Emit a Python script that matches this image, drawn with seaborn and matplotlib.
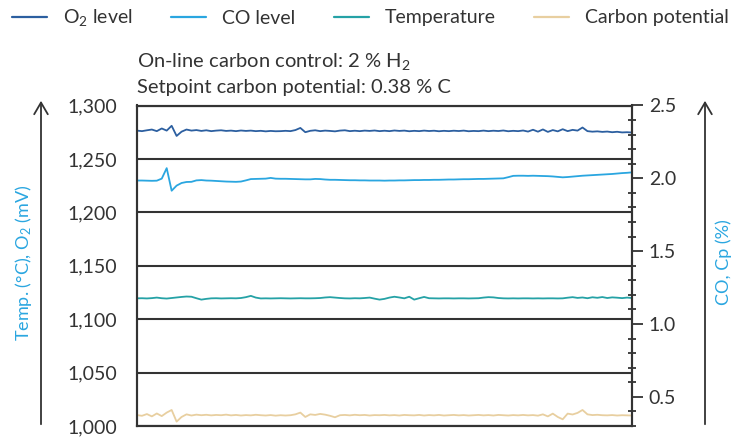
import numpy as np
import pandas as pd
import matplotlib
matplotlib.use("Agg")
import matplotlib.pyplot as plt
import matplotlib.ticker as mticker
import seaborn as sns

# ---- data (101 samples, arbitrary time units) ----
o2_level = [
    1276.5, 1276.0, 1276.8, 1277.5, 1276.0, 1278.5, 1276.5, 1281.0, 1271.5, 1275.5,
    1277.5, 1276.5, 1277.0, 1276.2, 1276.8, 1276.0, 1276.5, 1276.8, 1276.2, 1276.5,
    1276.0, 1276.6, 1276.2, 1276.5, 1276.0, 1276.3, 1275.8, 1276.2, 1275.9, 1276.0,
    1276.3, 1276.0, 1277.0, 1279.0, 1275.0, 1276.3, 1276.8, 1276.0, 1276.5, 1276.2,
    1275.8, 1276.5, 1276.8, 1276.0, 1276.4, 1276.0, 1276.5, 1276.2, 1276.6, 1276.0,
    1276.4, 1276.0, 1276.6, 1276.2, 1276.5, 1275.9, 1276.3, 1276.0, 1276.5, 1276.1,
    1276.4, 1275.9, 1276.3, 1276.0, 1276.4, 1276.1, 1276.5, 1275.9, 1276.2, 1276.0,
    1276.5, 1276.0, 1276.4, 1276.1, 1276.6, 1275.9, 1276.3, 1276.0, 1276.6, 1275.6,
    1277.3, 1275.5, 1277.6, 1275.3, 1277.0, 1275.8, 1277.8, 1276.0, 1277.2, 1276.5,
    1279.4, 1276.0, 1275.5, 1275.8, 1275.3, 1275.6, 1275.0, 1275.4, 1274.8, 1275.0,
    1274.7,
]
co_level = [
    1.985, 1.985, 1.984, 1.983, 1.984, 1.998, 2.070, 1.915, 1.950, 1.968,
    1.975, 1.976, 1.986, 1.988, 1.985, 1.984, 1.982, 1.980, 1.978, 1.977,
    1.976, 1.978, 1.986, 1.995, 1.996, 1.997, 1.998, 2.003, 1.998, 1.997,
    1.997, 1.996, 1.995, 1.994, 1.993, 1.993, 1.996, 1.995, 1.992, 1.990,
    1.990, 1.989, 1.988, 1.987, 1.987, 1.986, 1.986, 1.985, 1.985, 1.985,
    1.984, 1.985, 1.985, 1.986, 1.986, 1.987, 1.988, 1.988, 1.989, 1.989,
    1.990, 1.990, 1.991, 1.992, 1.992, 1.993, 1.994, 1.994, 1.995, 1.996,
    1.996, 1.997, 1.998, 1.999, 2.000, 2.008, 2.017, 2.018, 2.018, 2.017,
    2.018, 2.017, 2.016, 2.015, 2.013, 2.010, 2.007, 2.009, 2.012, 2.015,
    2.018, 2.020, 2.022, 2.024, 2.026, 2.028, 2.030, 2.033, 2.036, 2.038,
    2.041,
]
temperature = [
    1119.5, 1119.6, 1119.4, 1119.7, 1120.2, 1119.6, 1119.3, 1119.8, 1120.3, 1120.8,
    1121.2, 1121.0, 1119.6, 1118.3, 1119.0, 1119.5, 1119.6, 1119.4, 1119.5, 1119.6,
    1119.5, 1119.8, 1120.6, 1121.8, 1120.2, 1119.4, 1119.5, 1119.4, 1119.5, 1119.6,
    1119.5, 1119.4, 1119.5, 1119.6, 1119.5, 1119.5, 1119.6, 1119.8, 1120.3, 1120.6,
    1120.2, 1119.8, 1119.5, 1119.4, 1119.6, 1119.5, 1119.8, 1120.2, 1119.2, 1118.3,
    1119.0, 1120.2, 1121.0, 1120.3, 1119.5, 1121.0, 1118.3, 1119.6, 1120.8, 1119.6,
    1119.5, 1119.4, 1119.5, 1119.5, 1119.4, 1119.5, 1119.5, 1119.4, 1119.5, 1119.6,
    1120.2, 1120.6, 1120.4, 1119.8, 1119.5, 1119.4, 1119.5, 1119.4, 1119.5, 1119.5,
    1119.4, 1119.5, 1119.4, 1119.5, 1119.5, 1119.4, 1119.5, 1120.1, 1120.6, 1119.9,
    1120.3, 1119.6, 1120.5, 1120.0, 1120.7, 1119.8, 1120.4, 1120.1, 1119.7, 1120.2,
    1119.8,
]
carbon_potential = [
    0.375, 0.370, 0.382, 0.366, 0.386, 0.368, 0.392, 0.410, 0.330, 0.362,
    0.380, 0.372, 0.378, 0.374, 0.377, 0.373, 0.376, 0.374, 0.378, 0.373,
    0.376, 0.372, 0.375, 0.373, 0.377, 0.374, 0.372, 0.375, 0.371, 0.374,
    0.372, 0.374, 0.380, 0.392, 0.362, 0.380, 0.376, 0.383, 0.378, 0.370,
    0.360, 0.374, 0.376, 0.373, 0.377, 0.374, 0.376, 0.372, 0.375, 0.374,
    0.376, 0.373, 0.375, 0.372, 0.376, 0.374, 0.373, 0.376, 0.372, 0.375,
    0.373, 0.376, 0.372, 0.374, 0.376, 0.373, 0.375, 0.372, 0.374, 0.376,
    0.373, 0.375, 0.372, 0.376, 0.374, 0.372, 0.375, 0.373, 0.376, 0.373,
    0.375, 0.371, 0.380, 0.366, 0.385, 0.362, 0.346, 0.385, 0.379, 0.390,
    0.410, 0.380, 0.375, 0.377, 0.374, 0.373, 0.375, 0.372, 0.374, 0.373,
    0.372,
]
left_ticks = [1000, 1050, 1100, 1150, 1200, 1250, 1300]
right_ticks = [0.5, 1.0, 1.5, 2.0, 2.5]

legend_labels = ["O$_2$ level", "CO level", "Temperature", "Carbon potential"]
note_lines = ["On-line carbon control: 2 % H$_2$",
              "Setpoint carbon potential: 0.38 % C"]

C_O2 = "#2c5fa0"
C_CO = "#2aa6e0"
C_TEMP = "#25a2a6"
C_CP = "#e8cfa0"
DARK = "#333333"

df = pd.DataFrame({
    "t": np.arange(len(o2_level)),
    "o2": o2_level,
    "co": co_level,
    "temp": temperature,
    "cp": carbon_potential,
})

sns.set_theme(style="white")
plt.rcParams["font.family"] = ["Lato", "DejaVu Sans"]
plt.rcParams["mathtext.fontset"] = "custom"
plt.rcParams["mathtext.rm"] = "Lato"
plt.rcParams["mathtext.it"] = "Lato"

W, H = 741, 438
fig = plt.figure(figsize=(W / 100, H / 100), dpi=100)
ax = fig.add_axes([137 / W, 1 - 426 / H, (632 - 137) / W, (426 - 105.5) / H])
ax2 = ax.twinx()

lw = 1.3
sns.lineplot(data=df, x="t", y="o2", ax=ax, color=C_O2, lw=lw)
sns.lineplot(data=df, x="t", y="temp", ax=ax, color=C_TEMP, lw=lw)
sns.lineplot(data=df, x="t", y="co", ax=ax2, color=C_CO, lw=lw)
sns.lineplot(data=df, x="t", y="cp", ax=ax2, color=C_CP, lw=lw)

ax.set_xlim(df["t"].min(), df["t"].max())
ax.set_ylim(1000, 1300)
ax2.set_ylim(0.3, 2.5)
for a in (ax, ax2):
    a.set_xlabel("")
    a.set_ylabel("")
    a.set_xticks([])
    for s in a.spines.values():
        s.set_color(DARK)
        s.set_linewidth(1.5)

ax.set_yticks(left_ticks)
ax.yaxis.set_major_formatter(mticker.StrMethodFormatter("{x:,.0f}"))
ax.tick_params(axis="y", length=0, pad=14, labelsize=14, labelcolor=DARK)
ax.grid(axis="y", color=DARK, lw=1.5)
ax.set_axisbelow(False)

ax2.set_yticks(right_ticks)
ax2.yaxis.set_minor_locator(mticker.MultipleLocator(0.1))
ax2.yaxis.set_major_formatter(mticker.StrMethodFormatter("{x:.1f}"))
ax2.tick_params(axis="y", which="major", direction="out", length=8, width=1.3,
                color=DARK, pad=4, labelsize=14, labelcolor=DARK)
ax2.tick_params(axis="y", which="minor", direction="inout", length=6, width=1.3,
                color=DARK)
ax2.grid(False)

# axis titles with arrows
fig.text(24 / W, 1 - 263 / H, "Temp. (°C), O$_2$ (mV)", rotation=90,
         ha="center", va="center", color=C_CO, fontsize=13)
fig.text(724 / W, 1 - 262 / H, "CO, Cp (%)", rotation=90,
         ha="center", va="center", color=C_CO, fontsize=13)
for xp in (41, 705):
    fig.add_artist(plt.matplotlib.patches.FancyArrowPatch(
        (xp / W, 1 - 427 / H), (xp / W, 1 - 98 / H),
        transform=fig.transFigure, arrowstyle="->,head_length=0.6,head_width=0.35",
        mutation_scale=14, color=DARK, lw=1.3))

# notes above the plot
fig.text(137 / W, 1 - 62 / H, note_lines[0], ha="left", va="center",
         color=DARK, fontsize=14.5)
fig.text(137 / W, 1 - 88 / H, note_lines[1], ha="left", va="center",
         color=DARK, fontsize=14.5)

handles = [plt.Line2D([], [], color=c, lw=1.6) for c in (C_O2, C_CO, C_TEMP, C_CP)]
fig.legend(handles, legend_labels, ncol=4, loc="center left",
           bbox_to_anchor=(12 / W, 1 - 18 / H), frameon=False,
           fontsize=14, handlelength=1.8, handletextpad=0.8,
           columnspacing=2.0, borderpad=0, borderaxespad=0,
           labelcolor=DARK)

fig.savefig("out.png", dpi=100)
